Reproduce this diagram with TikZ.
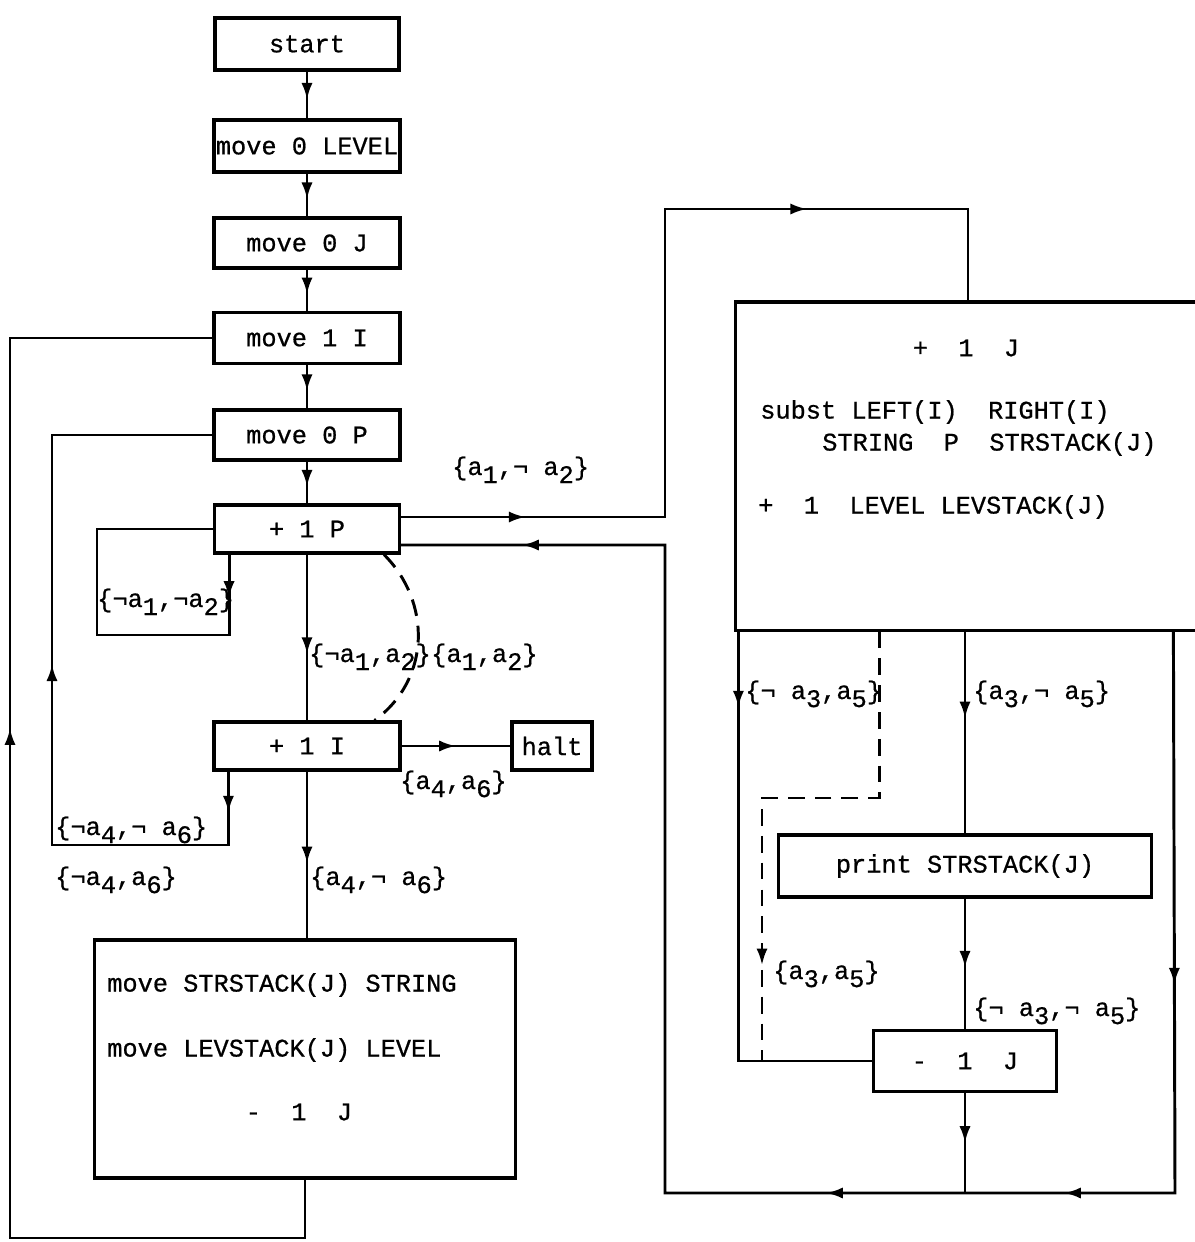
\documentclass[tikz,border=0pt]{standalone}
\usepackage{fontspec}
\setmainfont{Liberation Mono}[BoldFont={Liberation Mono}, BoldFeatures={FakeBold=0.7}]
\usetikzlibrary{arrows.meta,calc,decorations.markings}
\newcommand{\lo}[1]{\raisebox{-0.6ex}{#1}}
\tikzset{
  >={Latex[length=4.2mm,width=2.8mm]},
  every node/.style={font=\fontsize{18}{22}\selectfont\bfseries, inner sep=0pt},
  box/.style={draw, line width=2.2pt},
  line/.style={line width=2.1pt},
  dashline/.style={dash pattern=on 0.42cm off 0.25cm},
  arrowat/.style={postaction={decorate, decoration={markings, mark=at position #1 with {\arrow{>}}}}},
}
\begin{document}
\begin{tikzpicture}[x=0.025cm, y=-0.025cm]
    \useasboundingbox (0,0) rectangle (1195,1242);
    \clip (0,0) rectangle (1195,1242);
    \fill[white] (0,0) rectangle (1195,1242);

    % 左列
    \node[box, minimum width=4.6cm, minimum height=1.3cm] (st) at (307,44) {start};
    \node[box, minimum width=4.65cm, minimum height=1.3cm] (lev) at (307,146) {move 0 LEVEL};
    \node[box, minimum width=4.65cm, minimum height=1.25cm] (mj) at (307,243) {move 0 J};
    \node[box, minimum width=4.65cm, minimum height=1.28cm] (mi) at (307,338) {move 1 I};
    \node[box, minimum width=4.65cm, minimum height=1.25cm] (mp) at (307,435) {move 0 P};
    \node[box, minimum width=4.62cm, minimum height=1.2cm] (pp) at (307,529) {+ 1 P};
    \node[box, minimum width=4.65cm, minimum height=1.2cm] (pi) at (307,746) {+ 1 I};
    \node[box, minimum width=2cm, minimum height=1.2cm] (halt) at (552,746) {halt};

    % 左下大框
    \node[box, minimum width=10.5cm, minimum height=5.95cm] (low) at (305,1059) {};
    \node[anchor=west] (low1) at (107,985) {move STRSTACK(J) STRING};
    \node[anchor=west] (low2) at (107,1050) {move LEVSTACK(J) LEVEL};
    \node (low3) at (299,1112) {-~~1~~J};

    % 右边大框
    \node[box, minimum width=11.6cm, minimum height=8.2cm] (big) at (968,466) {};
    \node (big0) at (966,348) {+~~1~~J};
    \node[anchor=west] (big1) at (760,412) {subst LEFT(I)~~RIGHT(I)};
    \node[anchor=west] (big2) at (822,444) {STRING~~P~~STRSTACK(J)};
    \node[anchor=west] (big3) at (758,507) {+~~1~~LEVEL LEVSTACK(J)};
    \node[box, minimum width=9.33cm, minimum height=1.55cm] (prt) at (965,866) {print STRSTACK(J)};
    \node[box, minimum width=4.58cm, minimum height=1.52cm] (mjj) at (965,1061) {-~~1~~J};

    % 拐角
    \coordinate (ppl) at (97,635);
    \coordinate (pil) at (52,845);
    \coordinate (lol) at (10,1238);
    \coordinate (ur1) at (665,209);
    \coordinate (rr1) at (1175,1193);
    \coordinate (rr2) at (665,1193);
    \coordinate (dd2) at (762,798);

    % 主干
    \draw[line, arrowat=0.6] (st) -- (lev);
    \draw[line, arrowat=0.6] (lev) -- (mj);
    \draw[line, arrowat=0.6] (mj) -- (mi);
    \draw[line, arrowat=0.6] (mi) -- (mp);
    \draw[line, arrowat=0.6] (mp) -- (pp);
    \draw[line, arrowat=0.6] (pp) -- (pi);
    \draw[line, arrowat=0.5] (pi) -- (halt);
    \draw[line, arrowat=0.55] (pi.south) -- (pi.south |- low.north);

    % 回路
    \draw[line, arrowat=0.1] ($(pp.south west)+(16,0)$) |- (ppl) |- (pp.west);
    \draw[line, arrowat=0.05, arrowat=0.525] ($(pi.south west)+(16,0)$) |- (pil) |- (mp.west);
    \draw[line, arrowat=0.593] (low.south) |- (lol) |- (mi.west);
    \draw[line, dashline] ($(pp.south east)+(-17,0)$) .. controls ($(pp.south east)+(30,47)$) and ($(pi.north east)+(30,-42)$) .. ($(pi.north east)+(-27,0)$);

    % 右边
    \draw[line, arrowat=0.129, arrowat=0.739] ($(pp.east)+(0,-12)$) -| (ur1) -| (big.north);
    \draw[line, arrowat=0.178, arrowat=0.339, arrowat=0.459, arrowat=0.939] ($(big.south west)+(439,0)$) -- (rr1) -- (rr2) |- ($(pp.east)+(0,16)$);
    \draw[line, arrowat=0.43] (prt.north |- big.south) -- (prt.north);
    \draw[line, arrowat=0.53] (prt) -- (mjj);
    \draw[line, arrowat=0.5] (mjj.south) -- (mjj.south |- rr1);
    \draw[line, arrowat=0.135] ($(big.south west)+(4,0)$) |- (mjj.west);
    \draw[line, dashline, arrowat=0.825] ($(big.south west)+(145,0)$) |- (dd2) -- (dd2 |- mjj.west);

    % 条件
    \node[anchor=base west] (c1) at (452,475) {\{a\lo{1},¬ a\lo{2}\}};
    \node[anchor=base west] (c2) at (97,607) {\{¬a\lo{1},¬a\lo{2}\}};
    \node[anchor=base west] (c3) at (309,662) {\{¬a\lo{1},a\lo{2}\}};
    \node[anchor=base west] (c4) at (431,662) {\{a\lo{1},a\lo{2}\}};
    \node[anchor=base west] (c5) at (400,789) {\{a\lo{4},a\lo{6}\}};
    \node[anchor=base west] (c6) at (55,835) {\{¬a\lo{4},¬ a\lo{6}\}};
    \node[anchor=base west] (c7) at (55,885) {\{¬a\lo{4},a\lo{6}\}};
    \node[anchor=base west] (c8) at (310,885) {\{a\lo{4},¬ a\lo{6}\}};
    \node[anchor=base west] (c9) at (745,699) {\{¬ a\lo{3},a\lo{5}\}};
    \node[anchor=base west] (c10) at (973,699) {\{a\lo{3},¬ a\lo{5}\}};
    \node[anchor=base west] (c11) at (773,979) {\{a\lo{3},a\lo{5}\}};
    \node[anchor=base west] (c12) at (973,1016) {\{¬ a\lo{3},¬ a\lo{5}\}};
\end{tikzpicture}
\end{document}
